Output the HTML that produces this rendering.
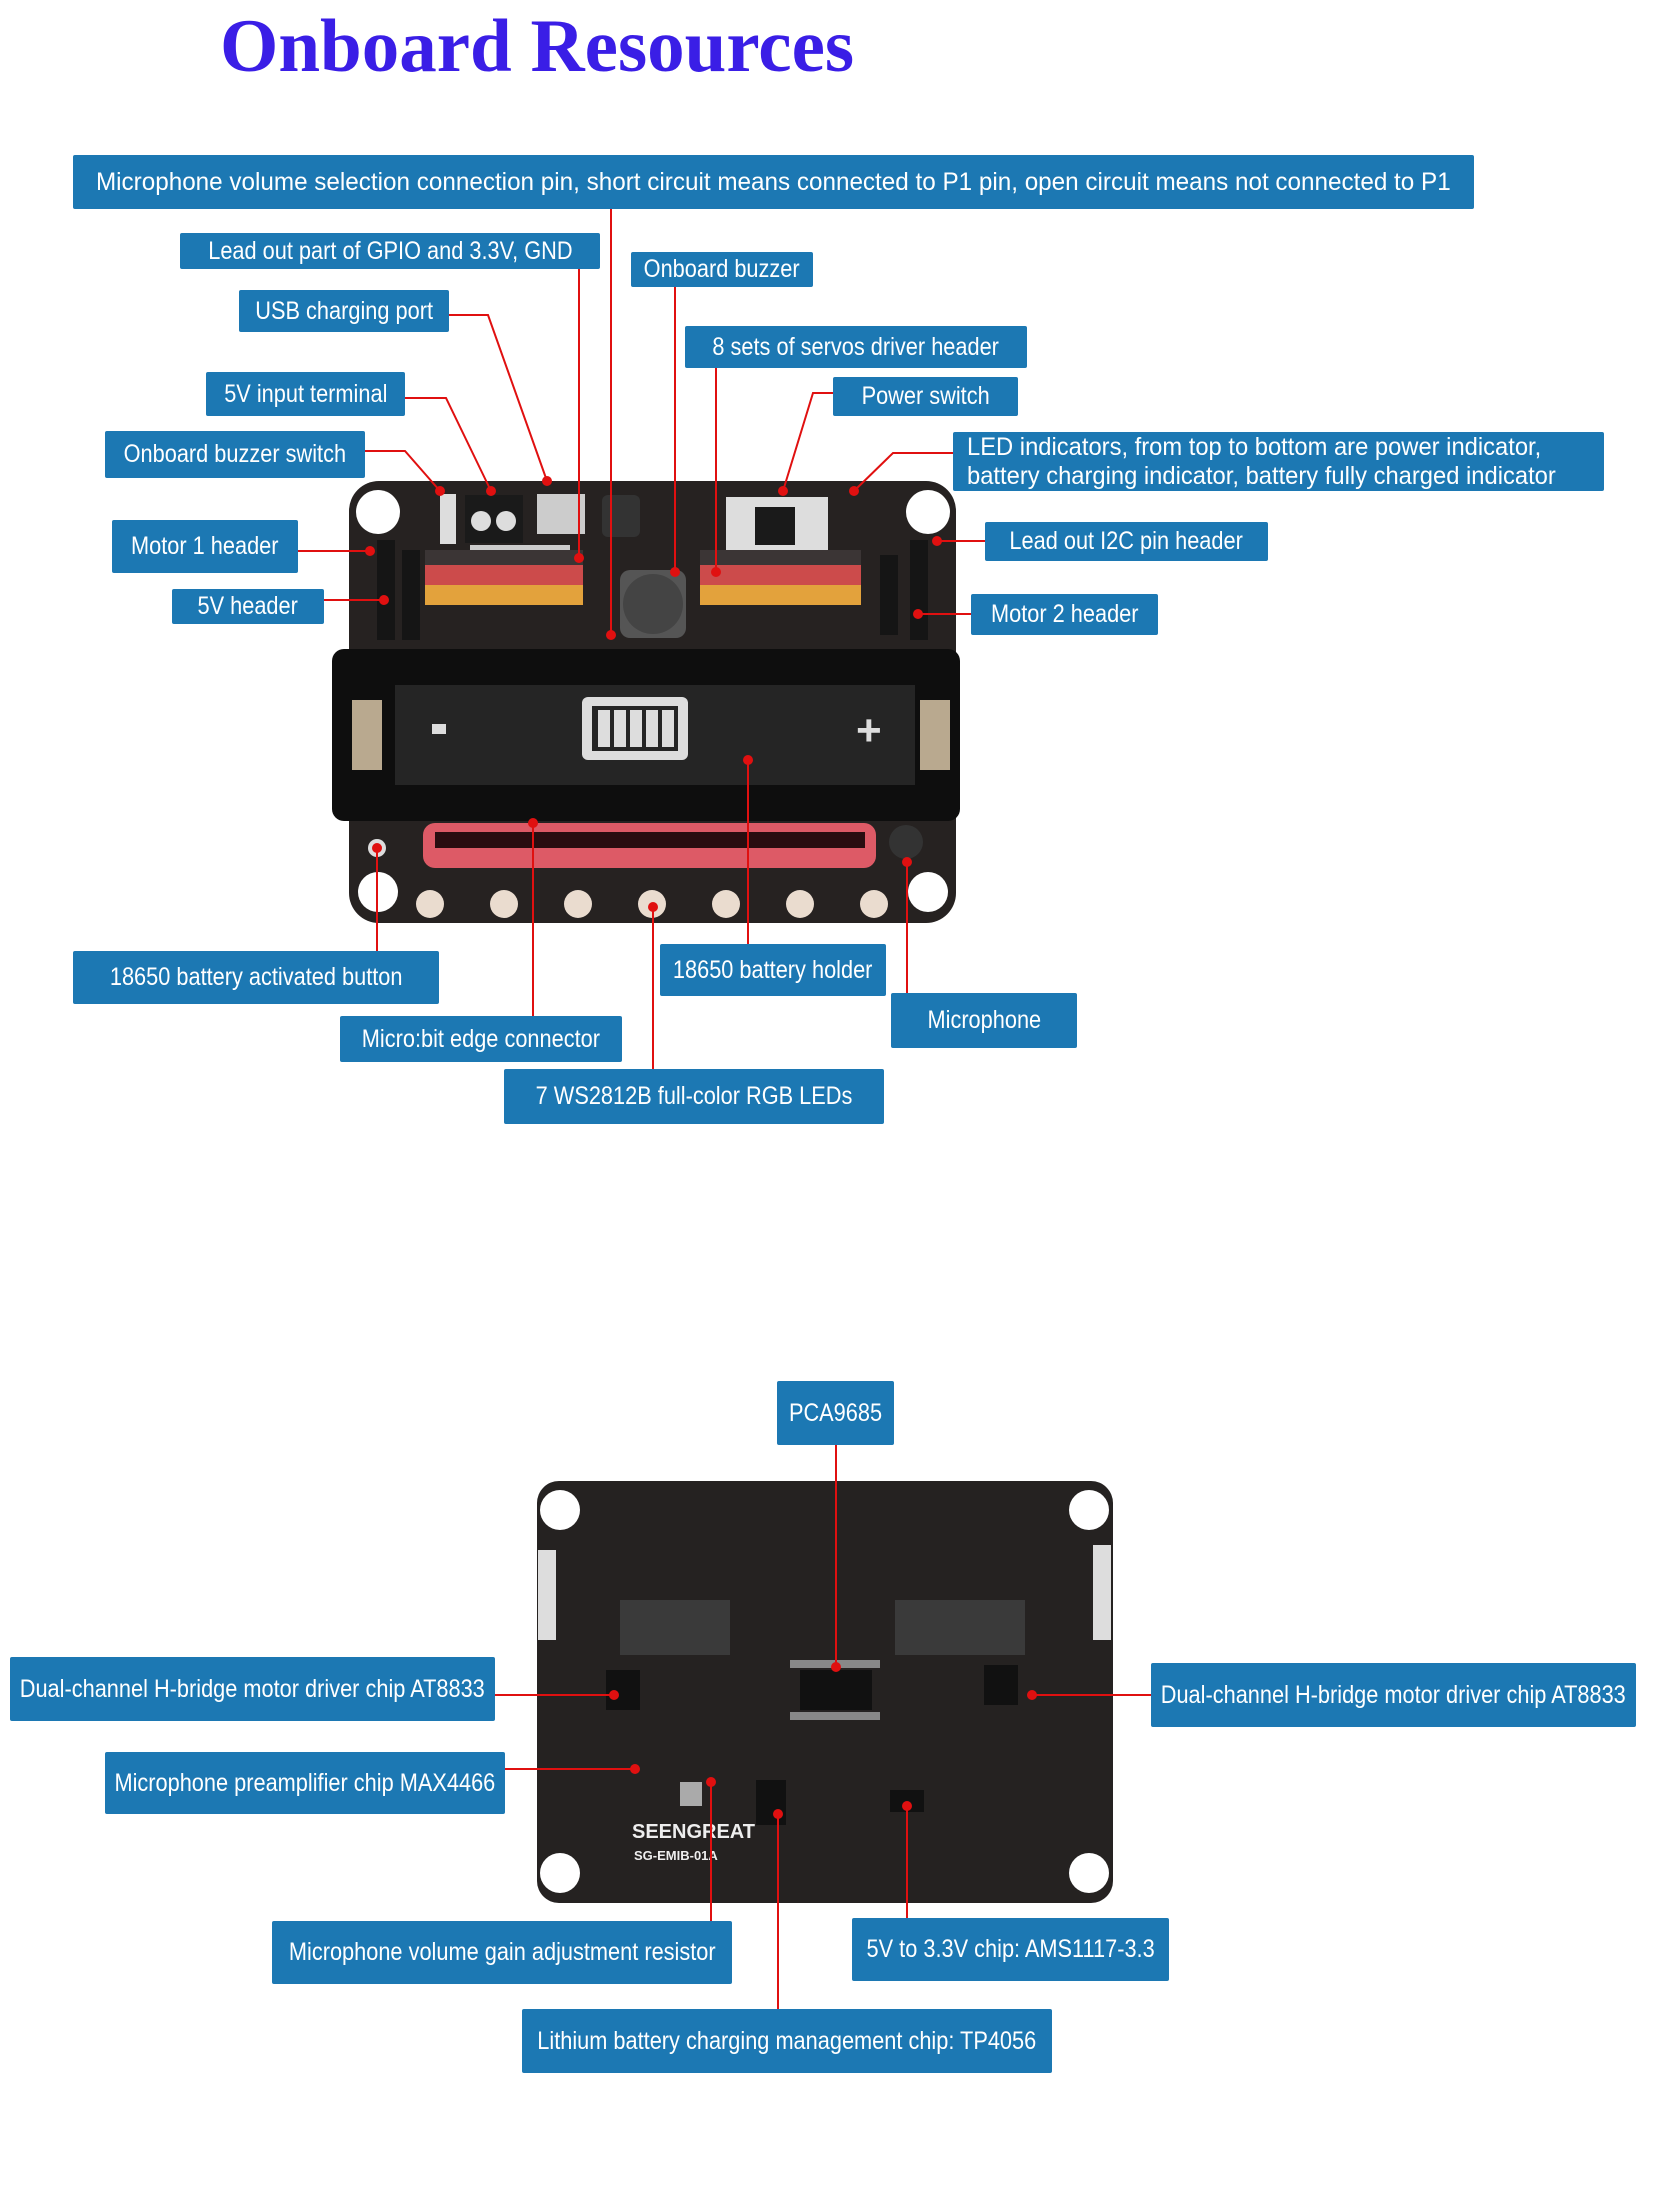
<!DOCTYPE html>
<html><head><meta charset="utf-8"><style>
body{margin:0;width:1660px;height:2200px;background:#fff;position:relative;overflow:hidden}
.t{position:absolute;left:220px;top:4px;font:bold 75px "Liberation Serif",serif;color:#3a1ee6;white-space:nowrap}
.b{position:absolute;background:#1c78b3;color:#fff;font-family:"Liberation Sans",sans-serif;font-size:25px;display:flex;align-items:center;justify-content:center;white-space:nowrap;border-radius:2px;line-height:1.15}
.b span{display:inline-block;transform:scaleX(.87);transform-origin:center}
svg{position:absolute;left:0;top:0}
</style></head><body>
<div class="t">Onboard Resources</div>
<svg width="1660" height="2200" viewBox="0 0 1660 2200">
<rect x="349" y="481" width="607" height="442" rx="30" fill="#262221"/>
<circle cx="378" cy="512" r="22" fill="#fff"/><circle cx="928" cy="512" r="22" fill="#fff"/>
<circle cx="378" cy="892" r="20" fill="#fff"/><circle cx="928" cy="892" r="20" fill="#fff"/>
<rect x="440" y="494" width="16" height="50" fill="#ddd"/>
<rect x="465" y="495" width="58" height="48" fill="#1a1a1a"/><circle cx="481" cy="521" r="10" fill="#ddd"/><circle cx="506" cy="521" r="10" fill="#ddd"/>
<rect x="470" y="545" width="100" height="20" fill="#ccc"/>
<rect x="537" y="494" width="48" height="40" fill="#ccc"/>
<rect x="602" y="495" width="38" height="42" rx="6" fill="#333"/>
<rect x="726" y="497" width="102" height="78" fill="#ddd"/><rect x="755" y="507" width="40" height="38" fill="#1a1a1a"/>
<rect x="425" y="565" width="158" height="20" fill="#cc4b4b"/>
<rect x="425" y="585" width="158" height="20" fill="#e3a23c"/>
<rect x="425" y="550" width="158" height="15" fill="#3b3535"/>
<rect x="700" y="565" width="161" height="20" fill="#cc4b4b"/>
<rect x="700" y="585" width="161" height="20" fill="#e3a23c"/>
<rect x="700" y="550" width="161" height="15" fill="#3b3535"/>
<rect x="620" y="570" width="66" height="68" rx="10" fill="#555"/><circle cx="653" cy="604" r="30" fill="#444"/>
<rect x="377" y="540" width="18" height="100" fill="#151515"/><rect x="402" y="550" width="18" height="90" fill="#151515"/>
<rect x="880" y="555" width="18" height="80" fill="#151515"/><rect x="910" y="540" width="18" height="100" fill="#151515"/>
<rect x="332" y="649" width="628" height="172" rx="12" fill="#0e0e0e"/>
<rect x="395" y="685" width="520" height="100" fill="#252525"/>
<rect x="352" y="700" width="30" height="70" fill="#b9a98f"/><rect x="920" y="700" width="30" height="70" fill="#b9a98f"/>
<rect x="582" y="697" width="106" height="63" rx="6" fill="#ddd"/><rect x="592" y="706" width="86" height="45" fill="#252525"/>
<rect x="598" y="710" width="12" height="37" fill="#ddd"/><rect x="614" y="710" width="12" height="37" fill="#ddd"/><rect x="630" y="710" width="12" height="37" fill="#ddd"/><rect x="646" y="710" width="12" height="37" fill="#ddd"/><rect x="662" y="710" width="12" height="37" fill="#ddd"/>
<rect x="432" y="724" width="14" height="10" fill="#ddd"/>
<text x="856" y="745" fill="#ddd" font-family="Liberation Sans" font-size="44" font-weight="bold">+</text>
<rect x="423" y="823" width="453" height="45" rx="12" fill="#dd5a66"/><rect x="435" y="832" width="430" height="16" fill="#2a0d10"/>
<circle cx="377" cy="848" r="9" fill="#ddd"/>
<circle cx="906" cy="842" r="17" fill="#333"/>
<g fill="#eadccf"><circle cx="430" cy="904" r="14"/><circle cx="504" cy="904" r="14"/><circle cx="578" cy="904" r="14"/><circle cx="652" cy="904" r="14"/><circle cx="726" cy="904" r="14"/><circle cx="800" cy="904" r="14"/><circle cx="874" cy="904" r="14"/></g>
<rect x="537" y="1481" width="576" height="422" rx="22" fill="#252221"/>
<circle cx="560" cy="1510" r="20" fill="#fff"/><circle cx="1089" cy="1510" r="20" fill="#fff"/>
<circle cx="560" cy="1873" r="20" fill="#fff"/><circle cx="1089" cy="1873" r="20" fill="#fff"/>
<rect x="538" y="1550" width="18" height="90" fill="#ddd"/><rect x="1093" y="1545" width="18" height="95" fill="#ddd"/>
<g fill="#111"><rect x="800" y="1670" width="72" height="40"/><rect x="606" y="1670" width="34" height="40"/><rect x="984" y="1665" width="34" height="40"/><rect x="756" y="1780" width="30" height="45"/><rect x="890" y="1790" width="34" height="22"/></g>
<g fill="#888"><rect x="790" y="1660" width="90" height="8"/><rect x="790" y="1712" width="90" height="8"/></g>
<rect x="680" y="1782" width="22" height="24" fill="#aaa"/>
<g fill="#3a3a3a"><rect x="620" y="1600" width="110" height="55"/><rect x="895" y="1600" width="130" height="55"/></g>
<text x="632" y="1838" fill="#eee" font-family="Liberation Sans" font-size="20" font-weight="bold">SEENGREAT</text>
<text x="634" y="1860" fill="#eee" font-family="Liberation Sans" font-size="13" font-weight="bold">SG-EMIB-01A</text>
<g stroke="#e01010" stroke-width="2" fill="none">
<polyline points="611,209 611,635"/><polyline points="579,269 579,558"/><polyline points="675,287 675,572"/>
<polyline points="449,315 488,315 547,481"/><polyline points="716,368 716,572"/>
<polyline points="405,398 446,398 491,491"/><polyline points="833,393 813,393 783,491"/>
<polyline points="365,451 405,451 440,491"/><polyline points="953,453 893,453 854,491"/>
<polyline points="298,551 370,551"/><polyline points="985,541 937,541"/><polyline points="324,600 384,600"/><polyline points="971,614 918,614"/>
<polyline points="377,848 377,951"/><polyline points="748,760 748,944"/><polyline points="907,862 907,993"/>
<polyline points="533,823 533,1016"/><polyline points="653,907 653,1069"/>
<polyline points="836,1445 836,1667"/><polyline points="495,1695 614,1695"/><polyline points="1151,1695 1032,1695"/>
<polyline points="505,1769 635,1769"/><polyline points="711,1921 711,1782"/><polyline points="907,1918 907,1806"/><polyline points="778,2009 778,1814"/>
</g>
<g fill="#e01010">
<circle cx="611" cy="635" r="5"/><circle cx="579" cy="558" r="5"/><circle cx="675" cy="572" r="5"/><circle cx="547" cy="481" r="5"/><circle cx="716" cy="572" r="5"/><circle cx="491" cy="491" r="5"/><circle cx="783" cy="491" r="5"/><circle cx="440" cy="491" r="5"/><circle cx="854" cy="491" r="5"/><circle cx="370" cy="551" r="5"/><circle cx="937" cy="541" r="5"/><circle cx="384" cy="600" r="5"/><circle cx="918" cy="614" r="5"/><circle cx="377" cy="848" r="5"/><circle cx="748" cy="760" r="5"/><circle cx="907" cy="862" r="5"/><circle cx="533" cy="823" r="5"/><circle cx="653" cy="907" r="5"/>
<circle cx="836" cy="1667" r="5"/><circle cx="614" cy="1695" r="5"/><circle cx="1032" cy="1695" r="5"/><circle cx="635" cy="1769" r="5"/><circle cx="711" cy="1782" r="5"/><circle cx="907" cy="1806" r="5"/><circle cx="778" cy="1814" r="5"/>
</g>
</svg>
<div class="b" style="left:73px;top:155px;width:1401px;height:54px"><span style="transform:scaleX(.97)">Microphone volume selection connection pin, short circuit means connected to P1 pin, open circuit means not connected to P1</span></div>
<div class="b" style="left:180px;top:233px;width:420px;height:36px"><span>Lead out part of GPIO and 3.3V, GND</span></div>
<div class="b" style="left:631px;top:252px;width:182px;height:35px"><span>Onboard buzzer</span></div>
<div class="b" style="left:239px;top:290px;width:210px;height:42px"><span>USB charging port</span></div>
<div class="b" style="left:685px;top:326px;width:342px;height:42px"><span>8 sets of servos driver header</span></div>
<div class="b" style="left:206px;top:372px;width:199px;height:44px"><span>5V input terminal</span></div>
<div class="b" style="left:833px;top:377px;width:185px;height:39px"><span>Power switch</span></div>
<div class="b" style="left:105px;top:431px;width:260px;height:47px"><span>Onboard buzzer switch</span></div>
<div class="b" style="left:953px;top:432px;width:651px;height:59px;justify-content:flex-start;padding-left:14px;box-sizing:border-box"><span style="transform-origin:left center;transform:scaleX(.95)">LED indicators, from top to bottom are power indicator,<br>battery charging indicator, battery fully charged indicator</span></div>
<div class="b" style="left:112px;top:520px;width:186px;height:53px"><span>Motor 1 header</span></div>
<div class="b" style="left:985px;top:522px;width:283px;height:39px"><span>Lead out I2C pin header</span></div>
<div class="b" style="left:172px;top:589px;width:152px;height:35px"><span>5V header</span></div>
<div class="b" style="left:971px;top:594px;width:187px;height:41px"><span>Motor 2 header</span></div>
<div class="b" style="left:73px;top:951px;width:366px;height:53px"><span>18650 battery activated button</span></div>
<div class="b" style="left:660px;top:944px;width:226px;height:52px"><span>18650 battery holder</span></div>
<div class="b" style="left:891px;top:993px;width:186px;height:55px"><span>Microphone</span></div>
<div class="b" style="left:340px;top:1016px;width:282px;height:46px"><span>Micro:bit edge connector</span></div>
<div class="b" style="left:504px;top:1069px;width:380px;height:55px"><span>7 WS2812B full-color RGB LEDs</span></div>
<div class="b" style="left:777px;top:1381px;width:117px;height:64px"><span>PCA9685</span></div>
<div class="b" style="left:10px;top:1657px;width:485px;height:64px"><span>Dual-channel H-bridge motor driver chip AT8833</span></div>
<div class="b" style="left:1151px;top:1663px;width:485px;height:64px"><span>Dual-channel H-bridge motor driver chip AT8833</span></div>
<div class="b" style="left:105px;top:1752px;width:400px;height:62px"><span>Microphone preamplifier chip MAX4466</span></div>
<div class="b" style="left:272px;top:1921px;width:460px;height:63px"><span>Microphone volume gain adjustment resistor</span></div>
<div class="b" style="left:852px;top:1918px;width:317px;height:63px"><span>5V to 3.3V chip: AMS1117-3.3</span></div>
<div class="b" style="left:522px;top:2009px;width:530px;height:64px"><span>Lithium battery charging management chip: TP4056</span></div>
</body></html>
